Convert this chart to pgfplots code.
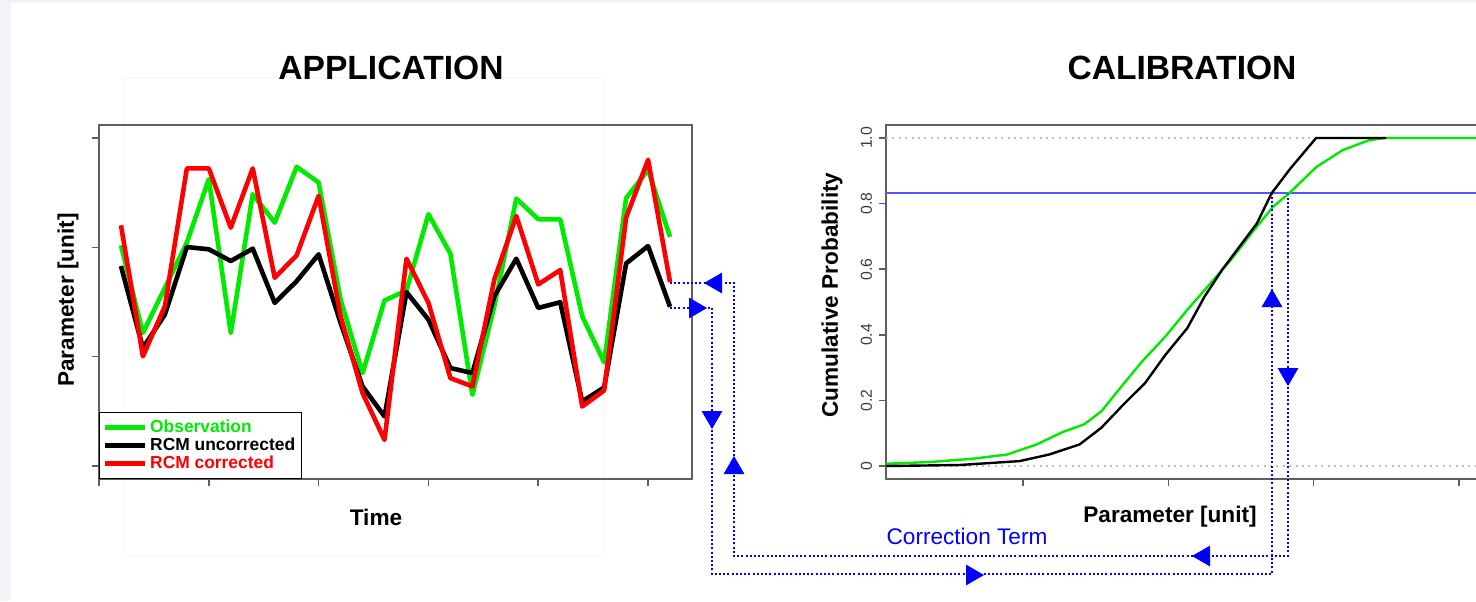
\documentclass[border=0pt]{standalone}
\usepackage{pgfplots}
\pgfplotsset{compat=1.18}
\usepackage{fontspec}
\setmainfont{Liberation Sans}
\definecolor{obs}{RGB}{0,235,0}
\definecolor{rcmred}{RGB}{255,0,0}
\definecolor{axgray}{RGB}{95,95,95}
\definecolor{lblgray}{RGB}{60,60,60}
\definecolor{bggray}{RGB}{242,244,247}
\definecolor{panelgray}{RGB}{245,245,245}
\definecolor{ablue}{RGB}{0,0,255}
\definecolor{hlblue}{RGB}{85,85,255}
\pgfplotsset{
  canvas/.style={at={(0pt,0pt)}, anchor=south west, scale only axis,
    width=738pt, height=300.5pt, xmin=0, xmax=1476, ymin=0, ymax=601,
    y dir=reverse, hide axis, clip=false},
  conn/.style={ablue, line width=1pt, dash pattern=on 1pt off 1.1pt},
  arr/.style={only marks, mark=triangle*, mark size=5.6pt, ablue,
    mark options={rotate=#1, fill=ablue, draw=ablue, solid}},
}
\begin{document}
\begin{tikzpicture}
\path[use as bounding box] (0,0) rectangle (738pt,300.5pt);
\fill[white] (0,0) rectangle (738pt,300.5pt);
\fill[bggray] (0,299pt) rectangle (738pt,300.5pt);
\fill[bggray] (0,0) rectangle (5.5pt,300.5pt);

% faint panel behind the left plot
\begin{axis}[canvas]
\addplot[panelgray, line width=0.5pt] coordinates {(123,77) (603,77) (603,555) (123,555) (123,77)};
\end{axis}

% ---------------- APPLICATION (time series) ----------------
\begin{axis}[at={(49.5pt,61pt)}, anchor=south west, scale only axis,
  width=296.5pt, height=177pt,
  xmin=0, xmax=27, ymin=-0.119, ymax=3.119,
  xtick={0,5,...,25}, ytick={0,1,2,3},
  xticklabels={}, yticklabels={},
  tick align=outside, tick pos=left, major tick length=3.5pt,
  every tick/.style={axgray, line width=0.8pt},
  axis line style={axgray, line width=0.8pt},
  legend style={at={(0,0)}, anchor=south west, draw=black, line width=0.6pt,
    font=\bfseries\fontsize{8.7pt}{8.5pt}\selectfont,
    inner xsep=1.5pt, inner ysep=2.5pt, row sep=-0.8pt,
    nodes={inner xsep=1.5pt, inner ysep=1pt}},
  legend cell align=left,
  legend image code/.code={\path (0pt,0pt) -- (20pt,0pt);
    \draw[#1, line width=2.3pt] (3.5pt,0pt) -- (17.5pt,0pt);},
]
\addplot[obs, line width=2.3pt, line join=round] coordinates {
(1,2.018) (2,1.217) (3,1.630) (4,2.043) (5,2.624) (6,1.217) (7,2.486) (8,2.226)
(9,2.737) (10,2.593) (11,1.523) (12,0.850) (13,1.514) (14,1.606) (15,2.303)
(16,1.942) (17,0.651) (18,1.462) (19,2.446) (20,2.257) (21,2.257) (22,1.370)
(23,0.948) (24,2.450) (25,2.709) (26,2.095)};
\addlegendentry{\textcolor{obs}{Observation}}
\addplot[black, line width=2.3pt, line join=round] coordinates {
(1,1.829) (2,1.080) (3,1.385) (4,2.003) (5,1.982) (6,1.875) (7,1.988) (8,1.492)
(9,1.691) (10,1.936) (11,1.309) (12,0.728) (13,0.453) (14,1.590) (15,1.339)
(16,0.896) (17,0.850) (18,1.554) (19,1.896) (20,1.446) (21,1.498) (22,0.590)
(23,0.719) (24,1.853) (25,2.012) (26,1.456)};
\addlegendentry{\textcolor{black}{RCM uncorrected}}
\addplot[rcmred, line width=2.3pt, line join=round] coordinates {
(1,2.202) (2,1.003) (3,1.462) (4,2.722) (5,2.722) (6,2.180) (7,2.722) (8,1.722)
(9,1.927) (10,2.471) (11,1.370) (12,0.667) (13,0.239) (14,1.896) (15,1.492)
(16,0.804) (17,0.728) (18,1.706) (19,2.287) (20,1.661) (21,1.792) (22,0.544)
(23,0.691) (24,2.272) (25,2.801) (26,1.682)};
\addlegendentry{\textcolor{rcmred}{RCM corrected}}
\end{axis}

% ---------------- CALIBRATION (CDFs) ----------------
\begin{axis}[at={(443pt,61pt)}, anchor=south west, scale only axis,
  width=301pt, height=177pt,
  xmin=0.0571, xmax=4.2, ymin=-0.0396, ymax=1.0396,
  xtick={1,2,3,4}, xticklabels={},
  ytick={0,0.2,0.4,0.6,0.8,1.0},
  yticklabels={0,0.2,0.4,0.6,0.8,1.0},
  yticklabel style={rotate=90, anchor=south, lblgray,
    font=\fontsize{7.9pt}{8pt}\selectfont},
  tick align=outside, tick pos=left, major tick length=3.5pt,
  every tick/.style={axgray, line width=0.8pt},
  axis line style={axgray, line width=0.8pt},
  clip=true,
]
\addplot[gray!50, line width=0.8pt, dash pattern=on 1pt off 2.2pt] coordinates {(0.0571,0) (4.2,0)};
\addplot[gray!50, line width=0.8pt, dash pattern=on 1pt off 2.2pt] coordinates {(0.0571,1) (4.2,1)};
\addplot[color=hlblue, line width=0.7pt] coordinates {(0.0571,0.832) (4.2,0.832)};
\addplot[obs, line width=1.2pt] coordinates {
(0.058,0.007) (0.354,0.012) (0.65,0.022) (0.89,0.035) (1.095,0.066) (1.27,0.103)
(1.42,0.127) (1.54,0.167) (1.66,0.233) (1.81,0.314) (1.98,0.395) (2.13,0.476)
(2.28,0.552) (2.43,0.628) (2.58,0.714) (2.72,0.79) (2.83,0.831) (3.02,0.912)
(3.2,0.963) (3.38,0.993) (3.49,1.0) (4.2,1.0)};
\addplot[black, line width=1.2pt] coordinates {
(0.058,0) (0.56,0.003) (0.976,0.015) (1.18,0.035) (1.39,0.066) (1.54,0.117)
(1.69,0.187) (1.84,0.253) (1.98,0.339) (2.13,0.42) (2.25,0.517) (2.37,0.598)
(2.49,0.669) (2.61,0.74) (2.71,0.831) (2.84,0.907) (3.017,1.0) (3.5,1.0)};
\end{axis}

% ---------------- connectors and text ----------------
\begin{axis}[canvas]
\addplot[conn] coordinates {(670,283) (734,283) (734,556) (1288,556) (1288,194)};
\addplot[conn] coordinates {(670,308) (712,308) (712,574) (1272,574) (1272,194)};
\addplot[arr=90] coordinates {(716,283) (1204,556)};
\addplot[arr=-90] coordinates {(695,308) (972,575)};
\addplot[arr=0] coordinates {(734,468) (1272,301)};
\addplot[arr=180] coordinates {(712,417) (1288,374)};
\node[font=\bfseries\fontsize{16.8pt}{18pt}\selectfont] at (axis cs:391,68) {APPLICATION};
\node[font=\bfseries\fontsize{16.8pt}{18pt}\selectfont] at (axis cs:1182,68) {CALIBRATION};
\node[font=\bfseries\fontsize{11.3pt}{12pt}\selectfont] at (axis cs:376,517) {Time};
\node[font=\bfseries\fontsize{11.3pt}{12pt}\selectfont] at (axis cs:1170,517) {Parameter [unit]};
\node[font=\bfseries\fontsize{11.3pt}{12pt}\selectfont, rotate=90] at (axis cs:68,300) {Parameter [unit]};
\node[font=\bfseries\fontsize{11.3pt}{12pt}\selectfont, rotate=90] at (axis cs:832,295) {Cumulative Probability};
\node[font=\fontsize{11.3pt}{12pt}\selectfont, ablue] at (axis cs:967,536) {Correction Term};
\end{axis}
\end{tikzpicture}
\end{document}
